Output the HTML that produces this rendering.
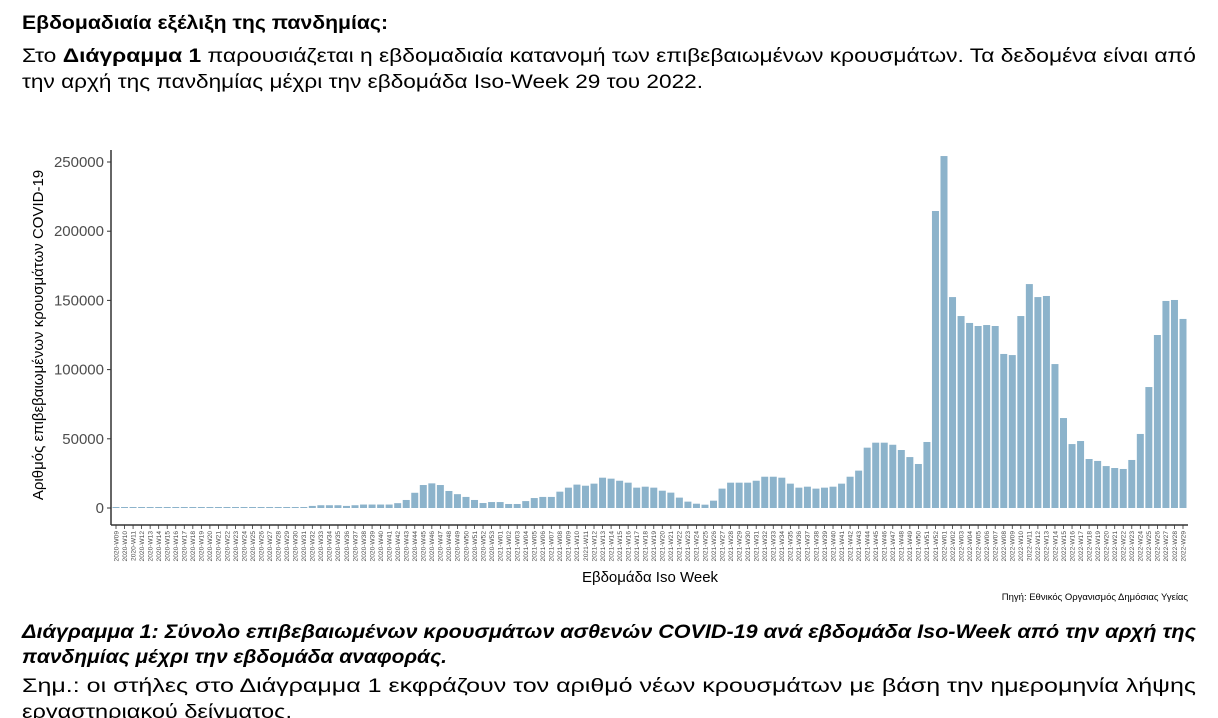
<!DOCTYPE html>
<html><head><meta charset="utf-8"><style>
html,body{margin:0;padding:0;background:#fff;width:1218px;height:718px;overflow:hidden}
svg{display:block;font-family:"Liberation Sans","DejaVu Sans",sans-serif}
</style></head><body>
<svg id="s" width="1218" height="718" viewBox="0 0 1218 718">
<g fill="#000" font-size="19">
<text x="22" y="29" font-weight="bold" textLength="366" lengthAdjust="spacingAndGlyphs">Εβδομαδιαία εξέλιξη της πανδημίας:</text>
<text x="22" y="62" textLength="1174" lengthAdjust="spacingAndGlyphs">Στο <tspan font-weight="bold">Διάγραμμα 1</tspan> παρουσιάζεται η εβδομαδιαία κατανομή των επιβεβαιωμένων κρουσμάτων. Τα δεδομένα είναι από</text>
<text x="22" y="88" textLength="681" lengthAdjust="spacingAndGlyphs">την αρχή της πανδημίας μέχρι την εβδομάδα Iso-Week 29 του 2022.</text>
</g>
<g id="chart"></g>
<g fill="#000" font-size="19">
<text x="22" y="638" font-weight="bold" font-style="italic" textLength="1174" lengthAdjust="spacingAndGlyphs">Διάγραμμα 1:  Σύνολο επιβεβαιωμένων κρουσμάτων ασθενών COVID-19 ανά εβδομάδα Iso-Week από την αρχή της</text>
<text x="22" y="663" font-weight="bold" font-style="italic" textLength="425" lengthAdjust="spacingAndGlyphs">πανδημίας μέχρι την εβδομάδα αναφοράς.</text>
<text x="22" y="692" textLength="1174" lengthAdjust="spacingAndGlyphs">Σημ.:  οι στήλες στο Διάγραμμα 1 εκφράζουν τον αριθμό νέων κρουσμάτων με βάση την ημερομηνία λήψης</text>
<text x="22" y="718" textLength="270" lengthAdjust="spacingAndGlyphs">εργαστηριακού δείγματος.</text>
</g>
</svg>
<script>
const years = [2020, 2021, 2022];
const weekStart = [9, 1, 1];
const weekEnd = [53, 52, 29];
const values2020 = [10,100,300,500,700,600,400,300,200,100,100,100,100,100,150,150,200,200,200,300,300,400,600,
1500,2000,2000,2000,1500,2000,2500,2500,2500,2500,3500,5800,11000,16600,17800,16600,12300,10000,8000,5800,3600,4300];
const values2021 = [4300,2900,2900,5000,7200,8000,8000,11800,14700,16900,16100,17600,21900,21200,19700,18300,14700,15400,14700,12500,11100,7500,4600,3100,2400,5300,14000,18300,18300,18300,19700,22600,22600,21900,17600,14700,15400,14000,14700,15400,17600,22600,27000,43600,47200,47200,45700,41900,36800,31800,47700,214600];
const values2022 = [254300,152400,138700,133700,131500,132200,131500,111300,110500,138700,161800,152400,153200,104000,65000,46200,48400,35400,34000,30300,28900,28200,34700,53500,87400,125000,149600,150300,136600];
const yTicks = [0,50000,100000,150000,200000,250000];

const NS='http://www.w3.org/2000/svg';
const g=document.getElementById('chart');
function mk(t,a,p){const e=document.createElementNS(NS,t);for(const k in a)e.setAttribute(k,a[k]);(p||g).appendChild(e);return e;}
const cats=[],vals=[];
const allVals=[values2020,values2021,values2022];
years.forEach((y,yi)=>{for(let w=weekStart[yi];w<=weekEnd[yi];w++){cats.push(y+'-W'+String(w).padStart(2,'0'));vals.push(allVals[yi][w-weekStart[yi]]);}});
const x0=116, x1=1183;
const step=(x1-x0)/(cats.length-1);
const xS=i=>x0+i*step;
const y0=508, yTop=162;
const yS=v=>y0-(v/250000)*(y0-yTop);
const bw=7;
// axes
const ax=mk('line',{x1:111,y1:150,x2:111,y2:525,stroke:'#333','stroke-width':1.5});


const bx=mk('line',{x1:111,y1:525,x2:1188,y2:525,stroke:'#333','stroke-width':1.5});


yTicks.forEach(t=>{
  const tk=mk('line',{x1:107,x2:111,y1:yS(t),y2:yS(t),stroke:'#333'});
  
  
  const tl=mk('text',{x:104,y:yS(t)+5,'text-anchor':'end','font-size':15,fill:'#4d4d4d'});
  
  
  tl.textContent=t;
});
vals.forEach((v,i)=>{
  const h=Math.max(1,y0-yS(v));
  const r=mk('rect',{x:xS(i)-bw/2,y:y0-h,width:bw,height:h,fill:'#8cb3cb'});
  
  
  const tk=mk('line',{x1:xS(i),x2:xS(i),y1:525,y2:529,stroke:'#333','stroke-width':0.8});
  
  
  const tl=mk('text',{transform:'translate('+(xS(i)+2.3)+',531) rotate(-90)','text-anchor':'end','font-size':6.6,fill:'#4d4d4d'});
  
  
  tl.textContent=cats[i];
});
const yt=mk('text',{transform:'translate(43,335) rotate(-90)','text-anchor':'middle','font-size':15,fill:'#000'});


yt.textContent='Αριθμός επιβεβαιωμένων κρουσμάτων COVID-19';
const xt=mk('text',{x:650,y:582,'text-anchor':'middle','font-size':15,fill:'#000'});


xt.textContent='Εβδομάδα Iso Week';
const src=mk('text',{x:1188,y:600,'text-anchor':'end','font-size':9.5,fill:'#000'});


src.textContent='Πηγή: Εθνικός Οργανισμός Δημόσιας Υγείας';
</script>
</body></html>
